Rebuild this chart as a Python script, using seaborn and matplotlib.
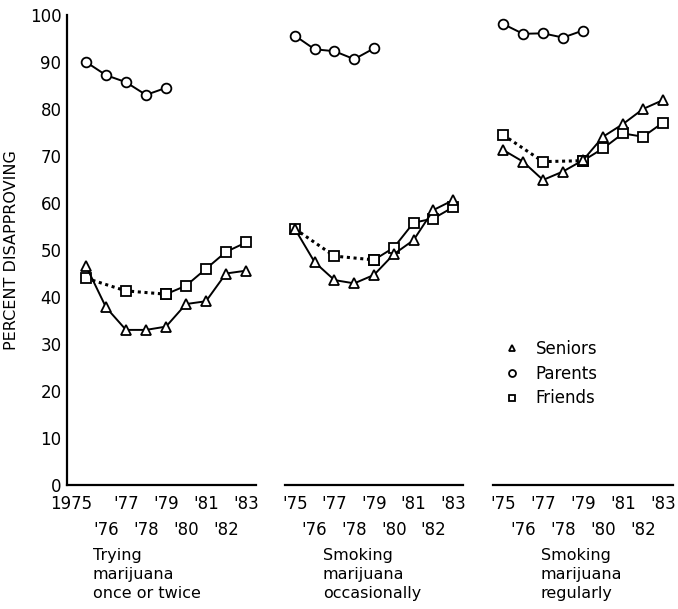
import matplotlib
matplotlib.use("Agg")
import matplotlib.pyplot as plt
from matplotlib.lines import Line2D
from matplotlib.transforms import offset_copy
import pandas as pd
import seaborn as sns

sns.set_style("white")
plt.rcParams['font.family'] = ['DejaVu Sans']
plt.rcParams['text.color'] = 'black'
plt.rcParams['xtick.color'] = 'black'
plt.rcParams['ytick.color'] = 'black'
plt.rcParams['axes.labelcolor'] = 'black'

years = [1975, 1976, 1977, 1978, 1979, 1980, 1981, 1982, 1983]
parent_years = [1975, 1976, 1977, 1978, 1979]
friend_years = [1975, 1977, 1979, 1980, 1981, 1982, 1983]

panel_titles = ["Trying\nmarijuana\nonce or twice",
                "Smoking\nmarijuana\noccasionally",
                "Smoking\nmarijuana\nregularly"]

seniors_once = [46.6, 37.8, 33.0, 33.0, 33.7, 38.5, 39.1, 45.0, 45.6]
seniors_occ = [54.5, 47.4, 43.6, 42.9, 44.7, 49.1, 52.1, 58.5, 60.6]
seniors_reg = [71.3, 68.8, 64.9, 66.7, 69.1, 74.1, 76.8, 80.0, 81.9]

parents_once = [90.0, 87.2, 85.7, 83.0, 84.5]
parents_occ = [95.6, 92.7, 92.3, 90.6, 92.9]
parents_reg = [98.1, 96.0, 96.1, 95.2, 96.7]

friends_once = [44.0, 41.3, 40.6, 42.4, 46.0, 49.6, 51.6]
friends_occ = [54.5, 48.7, 47.9, 50.5, 55.8, 56.7, 59.1]
friends_reg = [74.5, 68.8, 69.0, 71.6, 74.8, 74.1, 77.1]

yticks = [0, 10, 20, 30, 40, 50, 60, 70, 80, 90, 100]
odd_labels_first = ["1975", "'77", "'79", "'81", "'83"]
odd_labels = ["'75", "'77", "'79", "'81", "'83"]
even_labels = ["'76", "'78", "'80", "'82"]

seniors = [seniors_once, seniors_occ, seniors_reg]
parents = [parents_once, parents_occ, parents_reg]
friends = [friends_once, friends_occ, friends_reg]

W, H = 678, 609
fig = plt.figure(figsize=(W / 100, H / 100), dpi=100)
fig.patch.set_facecolor("white")

panels_px = [(67, 256, 1974.05), (285, 463, 1974.5), (493, 673, 1974.5)]
y_bottom, y_top = 485, 15
text_left = [93, 323, 541]

ms = 7
lw = 1.4
common = dict(color="black", markerfacecolor="white", markeredgecolor="black",
              markeredgewidth=1.3, markersize=ms, linewidth=lw)

for i, (l, r, xmin) in enumerate(panels_px):
    ax = fig.add_axes([l / W, (H - y_bottom) / H, (r - l) / W, (y_bottom - y_top) / H])
    ax.set_facecolor("white")
    ax.set_xlim(xmin, 1983.5)
    ax.set_ylim(0, 100)

    df_s = pd.DataFrame({"year": years, "pct": seniors[i]})
    df_p = pd.DataFrame({"year": parent_years, "pct": parents[i]})
    df_f = pd.DataFrame({"year": friend_years, "pct": friends[i]})
    df_f_early = df_f[df_f["year"] <= 1979]
    df_f_late = df_f[df_f["year"] >= 1979]

    sns.lineplot(data=df_f_early, x="year", y="pct", ax=ax, marker="s",
                 linestyle=(0, (1, 1.2)), **{**common, "linewidth": 2.2})
    sns.lineplot(data=df_f_late, x="year", y="pct", ax=ax, marker="s", **common)
    sns.lineplot(data=df_s, x="year", y="pct", ax=ax, marker="^", **common)
    sns.lineplot(data=df_p, x="year", y="pct", ax=ax, marker="o", **common)

    ax.set_xlabel("")
    ax.set_ylabel("")
    for s in ["top", "right"]:
        ax.spines[s].set_visible(False)
    ax.spines["bottom"].set_linewidth(1.6)
    ax.spines["bottom"].set_color("black")

    odd = [1975, 1977, 1979, 1981, 1983]
    even = [1976, 1978, 1980, 1982]
    ax.set_xticks(odd)
    ax.set_xticklabels(odd_labels_first if i == 0 else odd_labels)
    ax.set_xticks(even, minor=True)
    ax.set_xticklabels(even_labels, minor=True)
    ax.tick_params(axis="x", which="major", direction="in", length=8, width=1.3,
                   pad=7, labelsize=12, color="black")
    ax.tick_params(axis="x", which="minor", direction="in", length=8, width=1.3,
                   pad=26, labelsize=12, color="black")
    if i == 0:
        lab = ax.get_xticklabels()[0]
        lab.set_horizontalalignment("right")
        lab.set_transform(offset_copy(lab.get_transform(), fig=fig, x=6, y=0, units="dots"))

    if i == 0:
        ax.spines["left"].set_linewidth(1.6)
        ax.spines["left"].set_color("black")
        ax.set_yticks(yticks)
        ax.tick_params(axis="y", direction="in", length=7, width=1.3, pad=4,
                       labelsize=12, color="black")
        ax.set_ylabel("PERCENT DISAPPROVING", fontsize=11.5, labelpad=8)
    else:
        ax.spines["left"].set_visible(False)
        ax.set_yticks([])

    fig.text(text_left[i] / W, 1 - 548 / H, panel_titles[i], ha="left", va="top",
             fontsize=11.5, linespacing=1.35)

    if i == 2:
        mk = dict(linestyle="none", markerfacecolor="white", markeredgecolor="black",
                  markeredgewidth=1.3, markersize=5)
        handles = [Line2D([], [], marker="^", **mk),
                   Line2D([], [], marker="o", **mk),
                   Line2D([], [], marker="s", **mk)]
        ax.legend(handles, ["Seniors", "Parents", "Friends"], frameon=False,
                  loc="upper left",
                  bbox_to_anchor=((504 - l) / (r - l), (y_bottom - 340) / (y_bottom - y_top)),
                  fontsize=12, handlelength=1.0, handletextpad=0.9, labelspacing=0.4,
                  borderaxespad=0, borderpad=0)

fig.savefig("out.png", dpi=100, facecolor="white")
